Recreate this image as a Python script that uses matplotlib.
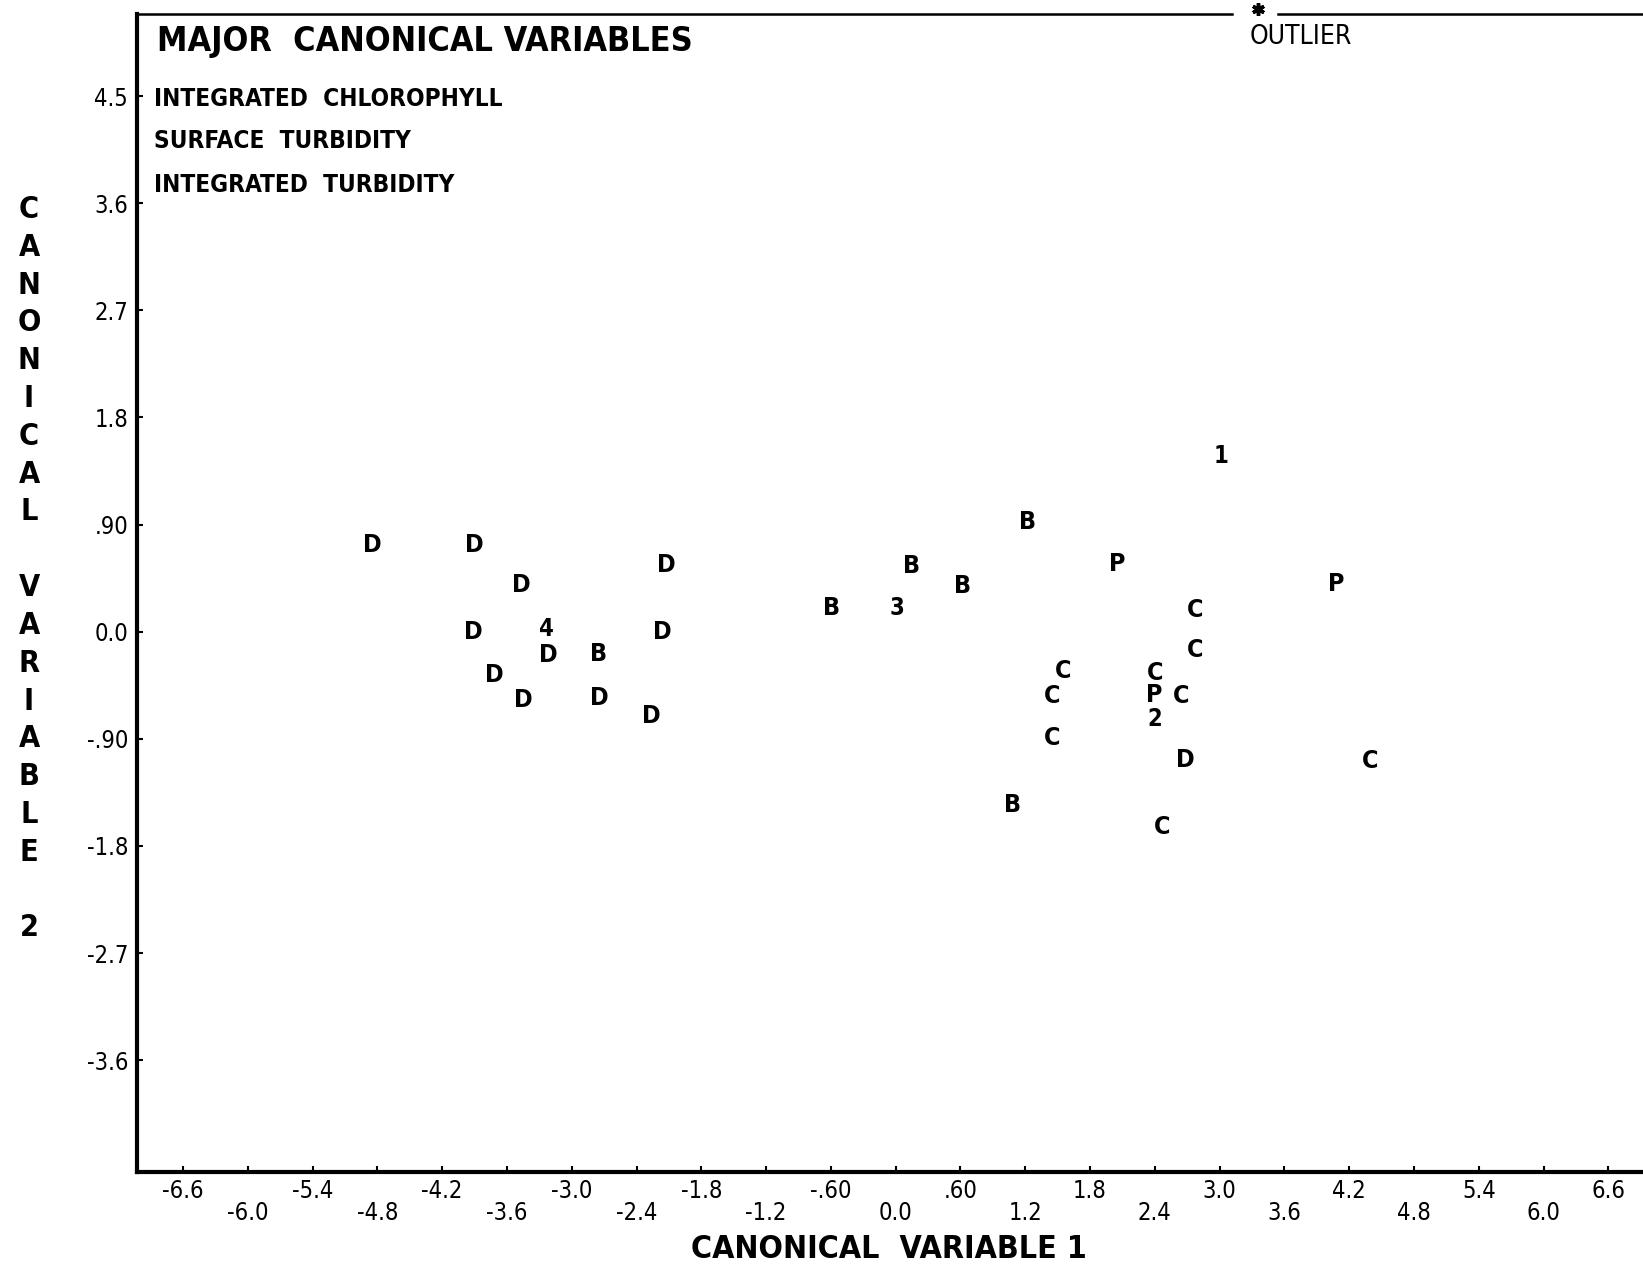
import numpy as np
import matplotlib
matplotlib.use('Agg')
import matplotlib.pyplot as plt
from matplotlib import font_manager

# pick a narrow sans if there is one, the plotter lettering is tall and thin
names = {f.name for f in font_manager.fontManager.ttflist}
if 'Liberation Sans Narrow' in names:
    FONT = dict(family='Liberation Sans Narrow')
else:
    FONT = dict(family='DejaVu Sans', stretch='condensed')

# group letter / number plotted at each point
symbols = ['D', 'D', 'D', 'D', 'D', '4', 'D', 'B', 'D', 'D', 'D', 'D', 'D',
           'B', '3', 'B', 'B', 'B', 'P', '1', 'P',
           'C', 'C', 'C', 'C', 'C', 'P', '2', 'C', 'C', 'D', 'C', 'B', 'C']
cv1 = [-4.85, -3.90, -3.47, -2.12, -3.91, -3.23, -3.22, -2.75, -2.16, -3.72, -3.45, -2.74, -2.26,
       -0.59, 0.01, 0.15, 0.62, 1.22, 2.05, 3.01, 4.08,
       2.77, 2.77, 1.55, 1.45, 2.40, 2.39, 2.40, 2.64, 1.45, 2.68, 4.39, 1.08, 2.47]
cv2 = [0.73, 0.73, 0.39, 0.56, 0.00, 0.02, -0.20, -0.19, 0.00, -0.36, -0.57, -0.56, -0.71,
       0.20, 0.20, 0.55, 0.38, 0.92, 0.57, 1.48, 0.40,
       0.18, -0.15, -0.33, -0.54, -0.35, -0.53, -0.73, -0.54, -0.89, -1.08, -1.09, -1.46, -1.64]

xticks_upper = [-6.6, -5.4, -4.2, -3.0, -1.8, -0.6, 0.6, 1.8, 3.0, 4.2, 5.4, 6.6]
xlabels_upper = ['-6.6', '-5.4', '-4.2', '-3.0', '-1.8', '-.60', '.60', '1.8', '3.0', '4.2', '5.4', '6.6']
xticks_lower = [-6.0, -4.8, -3.6, -2.4, -1.2, 0.0, 1.2, 2.4, 3.6, 4.8, 6.0]
xlabels_lower = ['-6.0', '-4.8', '-3.6', '-2.4', '-1.2', '0.0', '1.2', '2.4', '3.6', '4.8', '6.0']
yticks = [4.5, 3.6, 2.7, 1.8, 0.9, 0.0, -0.9, -1.8, -2.7, -3.6]
ylabels = ['4.5', '3.6', '2.7', '1.8', '.90', '0.0', '-.90', '-1.8', '-2.7', '-3.6']

title = 'MAJOR  CANONICAL VARIABLES'
variables = ['INTEGRATED  CHLOROPHYLL', 'SURFACE  TURBIDITY', 'INTEGRATED  TURBIDITY']

W, H = 1643, 1266
fig = plt.figure(figsize=(W / 100, H / 100), dpi=100)
ax = fig.add_axes([136.5 / W, (H - 1172) / H, (W - 136.5) / W, (1172 - 14) / H])
ax.set_xlim(-7.03, 6.92)
ax.set_ylim(-4.54, 5.19)

for s, x, y in zip(symbols, cv1, cv2):
    ax.text(x, y, s, ha='center', va='center', fontsize=18 if s.isalpha() else 17,
            fontweight='bold', **FONT)

for side in ['top', 'right']:
    ax.spines[side].set_visible(False)
for side in ['left', 'bottom']:
    ax.spines[side].set_linewidth(3)

# top frame line is broken where the outlier marker sits
gap0 = (1232 - 136.5) / (W - 136.5)
gap1 = (1278 - 136.5) / (W - 136.5)
ax.plot([0, gap0], [1, 1], color='black', lw=1.8, transform=ax.transAxes, clip_on=False)
ax.plot([gap1, 1], [1, 1], color='black', lw=1.8, transform=ax.transAxes, clip_on=False)
ax.plot([(1258 - 136.5) / (W - 136.5)], [1 + 5 / 1158], marker=(6, 2, 0), ms=9, mew=2.5,
        color='black', transform=ax.transAxes, clip_on=False)
fig.text(1250 / W, 1 - 37 / H, 'OUTLIER', ha='left', va='center', fontsize=19, **FONT)

ax.set_xticks(xticks_upper)
ax.set_xticklabels(xlabels_upper)
ax.set_xticks(xticks_lower, minor=True)
ax.set_xticklabels(xlabels_lower, minor=True)
ax.set_yticks(yticks)
ax.set_yticklabels(ylabels)
ax.tick_params(axis='x', which='major', direction='in', length=4, width=1.5, pad=5, labelsize=17)
ax.tick_params(axis='x', which='minor', direction='in', length=4, width=1.5, pad=21, labelsize=17)
ax.tick_params(axis='y', direction='in', length=4, width=1.5, pad=6, labelsize=17)
for lab in ax.get_xticklabels() + ax.get_xticklabels(minor=True) + ax.get_yticklabels():
    lab.set_fontfamily(FONT['family'])
    if 'stretch' in FONT:
        lab.set_fontstretch(FONT['stretch'])

fig.text(157 / W, 1 - 41 / H, title, ha='left', va='center', fontsize=24.5,
         fontweight='bold', **FONT)
for i, v in enumerate(variables):
    fig.text(154 / W, 1 - (98.5 + 43 * i) / H, v, ha='left', va='center', fontsize=17.5,
             fontweight='bold', **FONT)

fig.text(889 / W, 1 - 1249 / H, 'CANONICAL  VARIABLE 1', ha='center', va='center',
         fontsize=23, fontweight='bold', **FONT)

# y title is printed one letter under the other
ylab = 'CANONICAL VARIABLE 2'
for i, ch in enumerate(ylab):
    if ch != ' ':
        fig.text(29 / W, 1 - (209.6 + 37.8 * i) / H, ch, ha='center', va='center',
                 fontsize=22, fontweight='bold', **FONT)

fig.savefig('out.png', dpi=100, facecolor='white')
